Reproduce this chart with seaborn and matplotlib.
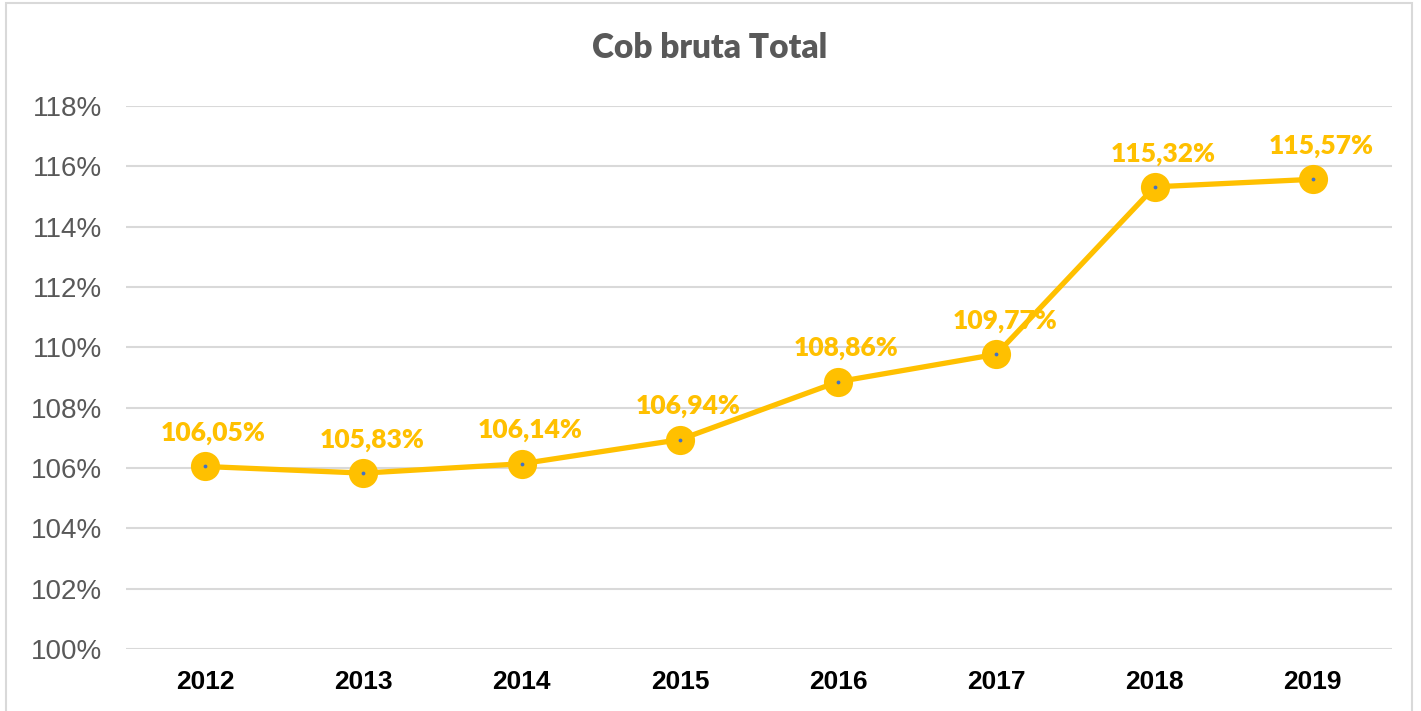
import matplotlib
matplotlib.use("Agg")
import matplotlib.pyplot as plt
from matplotlib.patches import Rectangle
from matplotlib.ticker import FuncFormatter
import seaborn as sns
import pandas as pd

# Data
years = ["2012", "2013", "2014", "2015", "2016", "2017", "2018", "2019"]
coverage = [106.05, 105.83, 106.14, 106.94, 108.86, 109.77, 115.32, 115.57]
labels = ["106,05%", "105,83%", "106,14%", "106,94%", "108,86%", "109,77%", "115,32%", "115,57%"]

gold = "#FFC000"
grey_text = "#595959"
grid_col = "#D9D9D9"

df = pd.DataFrame({"year": years, "value": coverage})

sns.set_theme(style="white")
plt.rcParams["font.family"] = ["Liberation Sans", "DejaVu Sans"]

fig = plt.figure(figsize=(14.21, 7.11), dpi=100)
ax = fig.add_axes([126 / 1421, 1 - 649 / 711, (1392 - 126) / 1421, (649 - 106) / 711])

sns.lineplot(
  data=df,
  x="year",
  y="value",
  color=gold,
  linewidth=3.8,
  marker="o",
  markersize=21,
  markeredgewidth=0,
  sort=False,
  ax=ax,
)
# tiny centre dot like the Excel marker
ax.scatter(df["year"], df["value"], s=3, color="#4472C4", zorder=5)

# Data labels
for i, (val, lab) in enumerate(zip(coverage, labels)):
  ax.annotate(
    lab,
    xy=(i, val),
    xytext=(6, 24),
    textcoords="offset points",
    ha="center",
    va="center",
    fontsize=19,
    fontweight="heavy",
    color=gold,
    family=["Lato", "DejaVu Sans"],
  )

# Formatting
ax.set_xlim(-0.5, len(years) - 0.5)
ax.set_ylim(100, 118)
ax.set_yticks(range(100, 119, 2))
ax.yaxis.set_major_formatter(FuncFormatter(lambda v, _: f"{v:.0f}%"))
ax.grid(axis="y", color=grid_col, linewidth=1.5)
ax.set_axisbelow(True)
ax.set_xlabel("")
ax.set_ylabel("")
for s in ax.spines.values():
  s.set_visible(False)
ax.tick_params(axis="y", labelsize=20, labelcolor=grey_text, length=0, pad=17)
ax.tick_params(axis="x", labelsize=19, labelcolor="black", length=0, pad=15)
for t in ax.get_xticklabels():
  t.set_fontweight("bold")

fig.text(
  710 / 1421, 1 - 48 / 711,
  "Cob bruta Total",
  ha="center",
  va="center",
  fontsize=24,
  fontweight="heavy",
  color=grey_text,
  family=["Lato", "DejaVu Sans"],
)

# Outer chart border
fig.patches.append(Rectangle(
  (6 / 1421, -0.01), (1412 - 6) / 1421, 1 - 3 / 711 + 0.01,
  transform=fig.transFigure, fill=False, edgecolor=grid_col, linewidth=1.5,
))

fig.savefig("out.png", dpi=100)
